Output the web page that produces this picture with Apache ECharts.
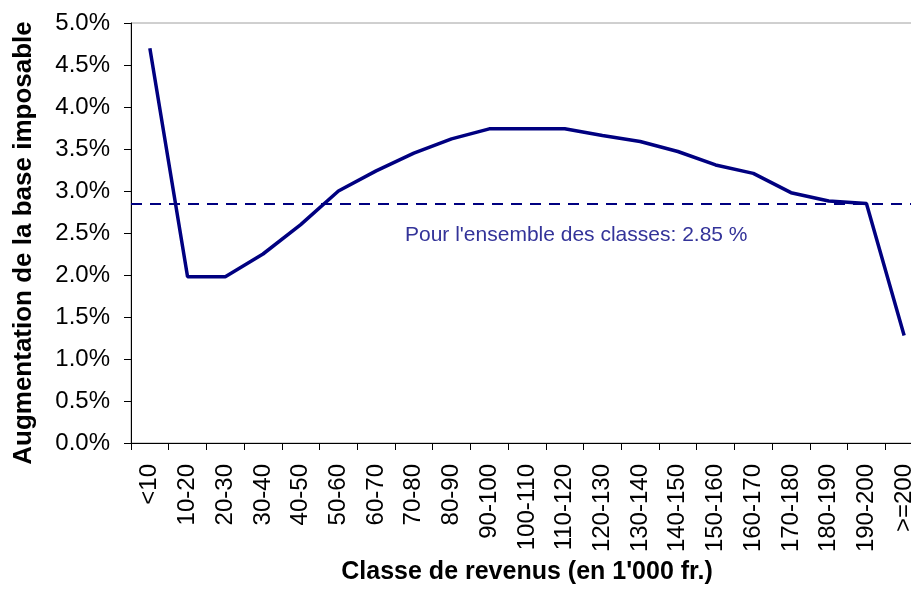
<!DOCTYPE html>
<html>
<head>
<meta charset="utf-8">
<script src="https://cdn.jsdelivr.net/npm/echarts@6/dist/echarts.min.js"></script>
<style>
  html, body { margin: 0; padding: 0; background: #fff; overflow: hidden; }
  /* le graphique d'origine est coupé à droite : la zone de tracé dépasse la fenêtre */
  #chartData { width: 923px; height: 593px; }
</style>
</head>
<body>
<div id="chartData"></div>
<script>
// categories (classes de revenus, en 1'000 fr.)
var categories = ['<10', '10-20', '20-30', '30-40', '40-50', '50-60', '60-70', '70-80',
    '80-90', '90-100', '100-110', '110-120', '120-130', '130-140', '140-150',
    '150-160', '160-170', '170-180', '180-190', '190-200', '>=200'];
// augmentation de la base imposable, en %
var values = [4.70, 1.98, 1.98, 2.25, 2.60, 3.00, 3.24, 3.45, 3.62, 3.74, 3.74,
    3.74, 3.66, 3.59, 3.47, 3.31, 3.21, 2.98, 2.88, 2.85, 1.28];
var moyenne = 2.85;
var moyenneLabel = "Pour l'ensemble des classes: 2.85 %";

var myChart = echarts.init(document.getElementById('chartData'));

var font = 'Liberation Sans, Arial, sans-serif';

var option = {
    animation: false,
    grid: {
        left: 131,
        right: 0,
        top: 23,
        bottom: 150,
        show: true,
        borderColor: '#a0a0a0',
        borderWidth: 1
    },
    xAxis: {
        type: 'category',
        data: categories,
        boundaryGap: true,
        name: "Classe de revenus (en 1'000 fr.)",
        nameLocation: 'middle',
        nameGap: 116,
        nameTextStyle: { fontFamily: font, fontSize: 25, fontWeight: 'bold', color: '#000' },
        axisLine: { lineStyle: { color: '#000', width: 1 } },
        axisTick: { show: true, length: 7, lineStyle: { color: '#000' } },
        axisLabel: {
            interval: 0,
            rotate: 90,
            margin: 21,
            fontFamily: font,
            fontSize: 24,
            color: '#000'
        },
        splitLine: { show: false }
    },
    yAxis: {
        type: 'value',
        min: 0,
        max: 5,
        interval: 0.5,
        name: 'Augmentation de la base imposable',
        nameLocation: 'middle',
        nameGap: 94,
        nameTextStyle: {
            fontFamily: font, fontSize: 26, fontWeight: 'bold', color: '#000',
            padding: [0, 20, 0, 0]
        },
        axisLine: { show: true, lineStyle: { color: '#000', width: 1 } },
        axisTick: { show: true, length: 7, inside: false, lineStyle: { color: '#000' } },
        axisLabel: {
            margin: 21,
            fontFamily: font,
            fontSize: 24,
            color: '#000',
            formatter: function (v) { return v.toFixed(1) + '%'; }
        },
        splitLine: { show: false }
    },
    series: [{
        name: 'Augmentation',
        type: 'line',
        data: values,
        symbol: 'none',
        lineStyle: { color: '#000080', width: 3.5 },
        markLine: {
            silent: true,
            symbol: ['none', 'none'],
            label: { show: false },
            lineStyle: { color: '#000080', width: 1.8, type: [11, 8] },
            data: [{ yAxis: moyenne }]
        }
    }],
    graphic: [{
        type: 'text',
        left: 405,
        top: 225,
        style: {
            text: moyenneLabel,
            font: '21px ' + font,
            fill: '#333399'
        }
    }]
};

myChart.setOption(option);
</script>
</body>
</html>
